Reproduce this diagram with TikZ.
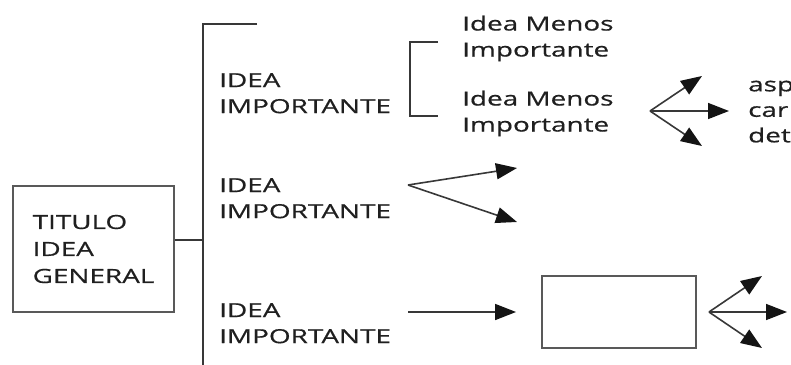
\documentclass[tikz,border=0pt]{standalone}
\usepackage{fontspec}
\setmainfont[FakeStretch=1.43,FakeBold=0.6]{Open Sans}
\usetikzlibrary{arrows.meta}
\begin{document}
\begin{tikzpicture}[x=1pt,y=-1pt,
  txt/.style={inner sep=0pt, anchor=north west, align=left, text=black!88,
    font=\fontsize{19.5}{26}\selectfont},
  ln/.style={draw=black!78, line width=1.6pt},
  arr/.style={ln, -{Triangle[length=21pt,width=16pt,color=black!92]}},
  bx/.style={draw=black!65, line width=1.9pt, inner sep=0pt}]
\useasboundingbox (0,0) rectangle (791,364);
\clip (0,0) rectangle (791,364);
% title box
\node[bx, minimum width=161pt, minimum height=126pt, align=left, text=black!88,
  font=\fontsize{19.5}{27}\selectfont] (tit) at (93.5,249) {TITULO\\IDEA\\GENERAL};
% spine
\coordinate (top) at (203,24);
\coordinate (topend) at (257,24);
\coordinate (bot) at (203,370);
\coordinate (jn) at (203,240);
\draw[ln] (topend) -- (top) -- (bot);
\draw[ln] (tit.east |- jn) -- (jn);
% main ideas
\node[txt] (i1) at (219,73) {IDEA\\IMPORTANTE};
\node[txt] (i2) at (219,178) {IDEA\\IMPORTANTE};
\node[txt] (i3) at (219,303) {IDEA\\IMPORTANTE};
% lesser ideas
\node[txt] (m1) at (462,15.5) {Idea Menos\\Importante};
\node[txt] (m2) at (462,90.5) {Idea Menos\\Importante};
\coordinate (b1) at (438,42);
\coordinate (b2) at (438,116);
\draw[ln] (b1) -- ++(-28,0) |- (b2);
% fan 1
\coordinate (f1) at (650,111);
\coordinate (t11) at (702,76);
\coordinate (t12) at (729,111);
\coordinate (t13) at (702,146);
\draw[arr] (f1) -- (t11);
\draw[arr] (f1) -- (t12);
\draw[arr] (f1) -- (t13);
\node[txt, font=\fontsize{19.5}{25.5}\selectfont] (d1) at (748,80.5) {asp\\car\\det};
% fan 2
\coordinate (f2) at (408,185);
\coordinate (t21) at (517,168);
\coordinate (t22) at (517,222);
\draw[arr] (f2) -- (t21);
\draw[arr] (f2) -- (t22);
% row 3
\node[bx, minimum width=154pt, minimum height=72pt] (b3) at (619,312) {};
\coordinate (a3) at (408,312);
\draw[arr] (a3) -- ([xshift=-25pt]b3.west);
\coordinate (f3) at ([xshift=12pt]b3.east);
\coordinate (t31) at (762,276);
\coordinate (t32) at (787,312);
\coordinate (t33) at (762,348);
\draw[arr] (f3) -- (t31);
\draw[arr] (f3) -- (t32);
\draw[arr] (f3) -- (t33);
\end{tikzpicture}
\end{document}
